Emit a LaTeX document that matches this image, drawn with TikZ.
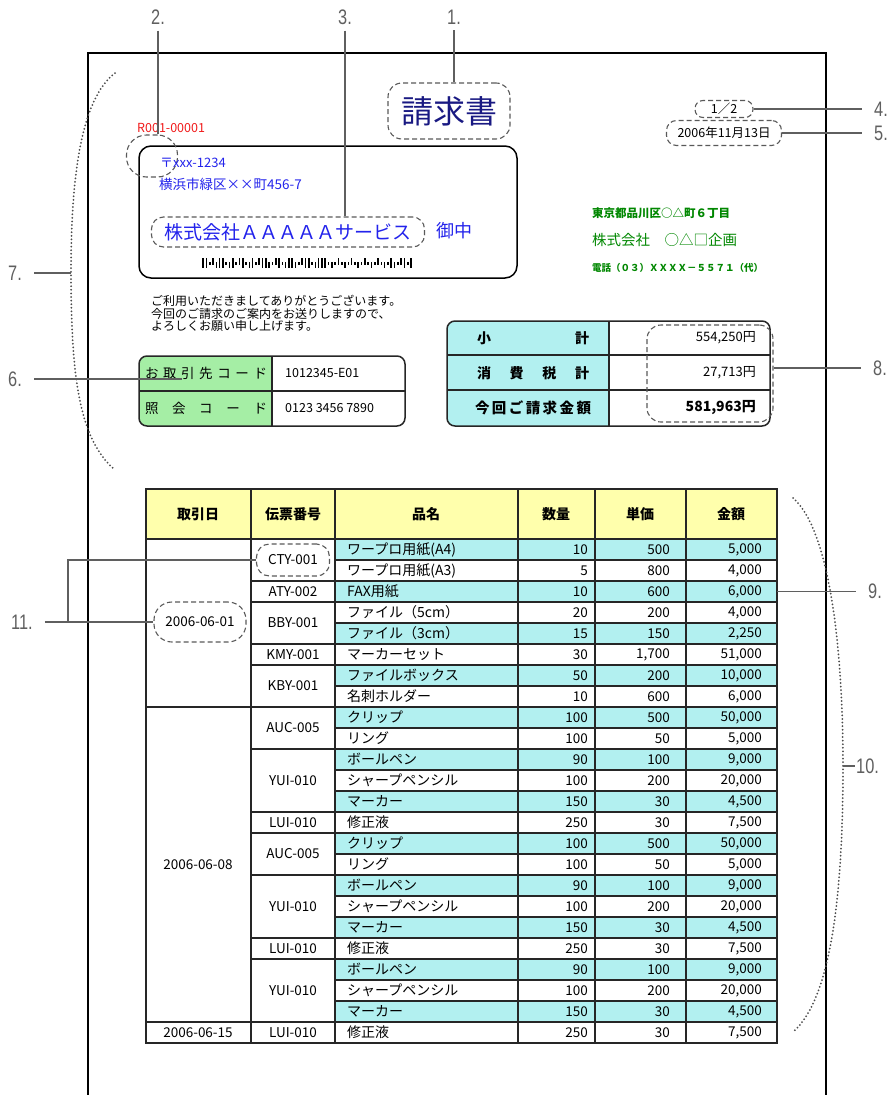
\documentclass[tikz,border=0pt]{standalone}
\usepackage{fontspec}
\usepackage{tikz}
\usetikzlibrary{positioning}
\setmainfont{Noto Sans CJK JP}
\newfontfamily\callfont[FakeStretch=0.78]{Liberation Sans}
\definecolor{callgray}{RGB}{95,95,95}
\definecolor{rowcyan}{RGB}{178,240,240}
\definecolor{headyellow}{RGB}{255,255,172}
\definecolor{codegreen}{RGB}{165,238,165}
\definecolor{titleblue}{RGB}{25,25,130}
\definecolor{addrblue}{RGB}{35,35,235}
\definecolor{sendgreen}{RGB}{0,135,0}
\definecolor{addrred}{RGB}{240,25,25}
\newcommand{\fsz}[1]{\fontsize{#1}{#1}\selectfont}
\tikzset{
	callout/.style={font=\callfont\fsz{21}, text=callgray, inner xsep=12pt, inner ysep=6pt},
	leader/.style={draw=callgray, line width=1.4pt},
	dashmark/.style={draw=black!65, line width=1.1pt, dash pattern=on 5pt off 3pt, rounded corners=#1},
	dashmark/.default=10pt,
	dotarc/.style={draw=black!70, line width=2pt, line cap=round, dash pattern=on 0pt off 3.6pt},
	cell/.style={font=\fsz{13.5}, inner sep=0pt},
	grid/.style={line width=1.5pt, draw=black!85}
}

\begin{document}
\begin{tikzpicture}[x=1pt, y=-1pt]
	\useasboundingbox (0,0) rectangle (890,1095);

	\draw [line width=1.8pt] (88,1095) -- (88,53) -- (826,53) -- (826,1095);

	\node [dashmark=14pt, inner xsep=13pt, minimum height=56, font=\fsz{32}, text=titleblue] (title) at (449,111) {請求書};

	\node [anchor=west, font=\fsz{12.5}, text=addrred, inner sep=0pt] (custno) at (137,128) {R001-00001};
	\draw [line width=1.5pt, rounded corners=12pt] (139,146) rectangle (517,278);
	\node [dashmark=20pt, minimum width=51, minimum height=42] (zipmark) at (152,156) {};
	\node [anchor=west, font=\fsz{13}, text=addrblue, inner sep=0pt] (zip) at (160,163) {〒xxx-1234};
	\node [anchor=west, font=\fsz{13.5}, text=addrblue, inner sep=0pt] (addr) at (159,184) {横浜市緑区××町456-7};
	\node [dashmark=12pt, font=\fsz{19}, text=addrblue, inner xsep=13pt, minimum height=30] (client) at (288,232) {株式会社ＡＡＡＡＡサービス};
	\node [anchor=west, font=\fsz{18}, text=addrblue, inner sep=0pt] (onchu) at (436,231) {御中};

	\foreach \b [count=\i] in {1,1,4,2,3,1,1,4,3,1,4,2,1,4,3,1,4,2,1,1,3,4,2,1,4,3,1,1,3,4,2,1,1,4,3,1,1,1,4,3,4,2,4,3,4,2,4,3,4,2,4,3,4,2,4,3,4,1,3,4,2,1,4,1}
	{
		\pgfmathsetmacro\bx{199+3.3*\i}
		\ifcase\b\or
			\fill (\bx,258) rectangle ++(1.6,10);
		\or
			\fill (\bx,258) rectangle ++(1.6,6.5);
		\or
			\fill (\bx,261.5) rectangle ++(1.6,6.5);
		\or
			\fill (\bx,261.5) rectangle ++(1.6,3);
		\fi
	}

	\node [dashmark=8pt, font=\fsz{12.5}, minimum width=58, minimum height=17, inner sep=0pt] (pageno) at (724,109) {1／2};
	\node [dashmark=10pt, font=\fsz{12.5}, minimum width=115, minimum height=25, inner sep=0pt] (issued) at (724,133) {2006年11月13日};

	\node [anchor=west, font=\fsz{11.5}\bfseries, text=sendgreen, inner sep=0pt] (sendaddr) at (592,213) {東京都品川区○△町６丁目};
	\node [anchor=west, font=\fsz{14.5}, text=sendgreen, inner sep=0pt] (sender) at (592,240) {株式会社　○△□企画};
	\node [anchor=west, font=\fsz{9.5}\bfseries, text=sendgreen, inner sep=0pt] (sendtel) at (592,268) {電話（０３）ＸＸＸＸ－５５７１（代）};

	\node [anchor=north west, align=left, font=\fontsize{12}{12.5}\selectfont, inner sep=0pt] (greeting) at (151,295)
		{ご利用いただきましてありがとうございます。\\今回のご請求のご案内をお送りしますので、\\よろしくお願い申し上げます。};

	\begin{scope}
		\clip [rounded corners=8pt] (139,356) rectangle (405,426);
		\fill [codegreen] (139,356) rectangle (272,426);
	\end{scope}
	\draw [grid, rounded corners=8pt] (139,356) rectangle (405,426);
	\draw [grid, line width=2.2pt] (272,356) -- (272,426);
	\draw [grid] (139,391) -- (405,391);
	\node [cell] (partner) at (206,373) {\makebox[122pt][s]{お\hfill 取\hfill 引\hfill 先\hfill コ\hfill ー\hfill ド}};
	\node [cell] (inquiry) at (206,408) {\makebox[122pt][s]{照\hfill 会\hfill コ\hfill ー\hfill ド}};
	\node [cell, anchor=west, font=\fsz{12.5}] (partnerno) at (285,373) {1012345-E01};
	\node [cell, anchor=west, font=\fsz{12.5}] (inquiryno) at (285,408) {0123 3456 7890};

	\begin{scope}
		\clip [rounded corners=8pt] (447,321) rectangle (770,426);
		\fill [rowcyan] (447,321) rectangle (609,426);
	\end{scope}
	\draw [grid, rounded corners=8pt] (447,321) rectangle (770,426);
	\draw [grid, line width=2.2pt] (609,321) -- (609,426);
	\draw [grid] (447,355) -- (770,355) (447,390) -- (770,390);
	\node [cell, font=\fsz{14}\bfseries] (subtotal) at (533,338) {\makebox[112pt][s]{小\hfill 計}};
	\node [cell, font=\fsz{14}\bfseries] (taxtotal) at (533,373) {\makebox[112pt][s]{消\hfill 費\hfill 税\hfill 計}};
	\node [cell, font=\fsz{14.5}\bfseries] (billtotal) at (533,408) {\makebox[116pt][s]{今\hfill 回\hfill ご\hfill 請\hfill 求\hfill 金\hfill 額}};
	\node [cell, anchor=east, font=\fsz{13}] at (756,338) {554,250円};
	\node [cell, anchor=east, font=\fsz{13}] at (756,373) {27,713円};
	\node [cell, anchor=east, font=\fsz{14}\bfseries] at (756,408) {581,963円};
	\node [dashmark=14pt, minimum width=126, minimum height=97, inner sep=0pt] (totalmark) at (710,373.5) {};

	\fill [headyellow] (146,489) rectangle (777,539);
	\foreach \goods/\qty/\price/\amt [count=\rw] in {
		ワープロ用紙(A4)/10/500/{5,000},
		ワープロ用紙(A3)/5/800/{4,000},
		FAX用紙/10/600/{6,000},
		ファイル（5cm）/20/200/{4,000},
		ファイル（3cm）/15/150/{2,250},
		マーカーセット/30/{1,700}/{51,000},
		ファイルボックス/50/200/{10,000},
		名刺ホルダー/10/600/{6,000},
		クリップ/100/500/{50,000},
		リング/100/50/{5,000},
		ボールペン/90/100/{9,000},
		シャープペンシル/100/200/{20,000},
		マーカー/150/30/{4,500},
		修正液/250/30/{7,500},
		クリップ/100/500/{50,000},
		リング/100/50/{5,000},
		ボールペン/90/100/{9,000},
		シャープペンシル/100/200/{20,000},
		マーカー/150/30/{4,500},
		修正液/250/30/{7,500},
		ボールペン/90/100/{9,000},
		シャープペンシル/100/200/{20,000},
		マーカー/150/30/{4,500},
		修正液/250/30/{7,500}}
	{
		\pgfmathsetmacro\rowtop{518+21*\rw}
		\ifodd\rw
			\fill [rowcyan] (335,\rowtop) rectangle (777,\rowtop+21);
		\fi
		\node [cell, anchor=west, font=\fsz{14}] at (347,\rowtop+10.5) {\goods};
		\node [cell, anchor=east] at (588,\rowtop+10.5) {\qty};
		\node [cell, anchor=east] at (670,\rowtop+10.5) {\price};
		\node [cell, anchor=east] at (762,\rowtop+10.5) {\amt};
	}
	\foreach \rw in {1,...,23}
		\draw [grid, line width=1.3pt] (335,539+21*\rw) -- (777,539+21*\rw);

	\foreach \slip/\a/\b in {ATY-002/3/3, BBY-001/4/5, KMY-001/6/6, KBY-001/7/8, AUC-005/9/10, YUI-010/11/13, LUI-010/14/14, AUC-005/15/16, YUI-010/17/19, LUI-010/20/20, YUI-010/21/23, LUI-010/24/24}
	{
		\node [cell] at (293,{539+10.5*(\a+\b-1)}) {\slip};
		\draw [grid, line width=1.3pt] (251,518+21*\a) -- (335,518+21*\a);
	}
	\draw [grid, line width=1.3pt] (146,707) -- (251,707) (146,1022) -- (251,1022);

	\foreach \x in {251,335,518,595,686}
		\draw [grid] (\x,489) -- (\x,1043);
	\draw [grid] (146,539) -- (777,539);
	\draw [grid, line width=1.8pt] (146,489) rectangle (777,1043);

	\foreach \head/\x in {取引日/198, 伝票番号/293, 品名/426, 数量/556, 単価/640, 金額/731}
		\node [cell, font=\fsz{14}\bfseries] at (\x,514) {\head};

	\node [cell, dashmark=13pt, minimum width=73, minimum height=32] (cty) at (293,560) {CTY-001};
	\node [cell, dashmark=18pt, minimum width=92, minimum height=40] (firstdate) at (200,622) {2006-06-01};
	\node [cell] (seconddate) at (198,864.5) {2006-06-08};
	\node [cell] (thirddate) at (198,1032.5) {2006-06-15};

	\draw [dotarc] (115,73) .. controls (80,100) and (71,180) .. (71,273) .. controls (71,380) and (80,440) .. (115,470);
	\draw [dotarc] (793,498) .. controls (830,530) and (843,650) .. (843,766) .. controls (843,900) and (830,1000) .. (793,1032);
	\coordinate (arcseven) at (71,273);
	\coordinate (arcten) at (843,766);
	\coordinate (codecell) at (182,379);
	\coordinate (faxrow) at (777,591.5);
	\coordinate (fork) at (68,622);

	\node [callout] (c1) at (454,17) {1.};
	\node [callout] (c2) at (158,17) {2.};
	\node [callout] (c3) at (345,17) {3.};
	\node [callout] (c4) at (881,109) {4.};
	\node [callout] (c5) at (881,133) {5.};
	\node [callout] (c6) at (15,379) {6.};
	\node [callout] (c7) at (15,273) {7.};
	\node [callout] (c8) at (880,368) {8.};
	\node [callout] (c9) at (875,591.5) {9.};
	\node [callout, inner xsep=1pt, right=12pt of arcten] (c10) {10.};
	\node [callout] (c11) at (22,622) {11.};

	\draw [leader] (c1.south) -- (c1.south |- title.north);
	\draw [leader] (c2.south) -- (c2.south |- zipmark.north);
	\draw [leader] (c3.south) -- (c3.south |- client.north);
	\draw [leader] (pageno.east) -- (pageno.east -| c4.west);
	\draw [leader] (issued.east) -- (issued.east -| c5.west);
	\draw [leader] (c6.east) -- (codecell);
	\draw [leader] (c7.east) -- (arcseven);
	\draw [leader] (c8.west) -- (c8.west -| totalmark.east);
	\draw [leader] (faxrow) -- (faxrow -| c9.west);
	\draw [leader] (arcten) -- (c10.west);
	\draw [leader] (c11.east) -- (fork) |- (cty.west);
	\draw [leader] (fork) -- (firstdate.west);
\end{tikzpicture}
\end{document}
